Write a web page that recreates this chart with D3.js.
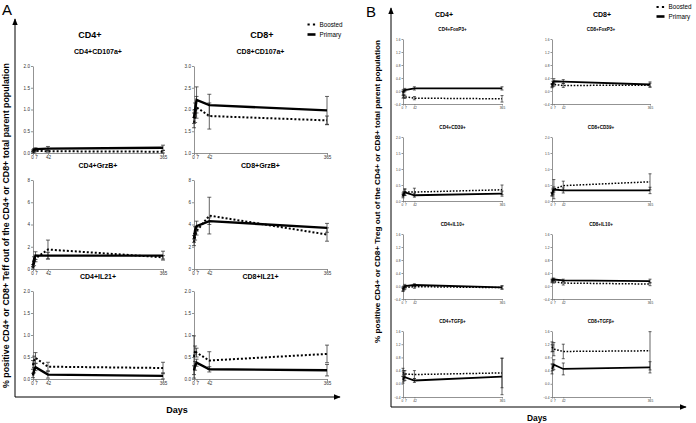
<!DOCTYPE html>
<html><head><meta charset="utf-8">
<script src="https://cdn.jsdelivr.net/npm/d3@7"></script>
<style>html,body{margin:0;padding:0;background:#fff;}svg{display:block;font-family:"Liberation Sans",Arial,sans-serif;}</style>
</head><body>
<svg id="c" width="696" height="423"></svg>
<script>
// ---- data ----
const days = [0, 3, 7, 42, 365];
const xTickDays = [0, 7, 42, 365];
const seriesNames = ["Boosted", "Primary"];

// Panel A (Teff)
const cd4Cd107aPrimary = [0.05, 0.08, 0.09, 0.10, 0.12];
const cd4Cd107aPrimaryErr = [0.02, 0.02, 0.03, 0.05, 0.06];
const cd4Cd107aBoosted = [0.02, 0.04, 0.05, 0.04, 0.03];
const cd4Cd107aBoostedErr = [0.02, 0.02, 0.02, 0.02, 0.03];

const cd8Cd107aPrimary = [1.80, 2.00, 2.22, 2.10, 1.98];
const cd8Cd107aPrimaryErr = [0.12, 0.15, 0.30, 0.25, 0.32];
const cd8Cd107aBoosted = [1.70, 1.85, 2.05, 1.85, 1.75];
const cd8Cd107aBoostedErr = [0.12, 0.15, 0.25, 0.30, 0.10];

const cd4GrzbPrimary = [0.3, 0.9, 1.2, 1.2, 1.2];
const cd4GrzbPrimaryErr = [0.1, 0.2, 0.35, 0.3, 0.4];
const cd4GrzbBoosted = [0.1, 0.5, 0.95, 1.75, 1.05];
const cd4GrzbBoostedErr = [0.1, 0.2, 0.3, 0.85, 0.15];

const cd8GrzbPrimary = [2.7, 3.5, 3.85, 4.3, 3.7];
const cd8GrzbPrimaryErr = [0.3, 0.3, 0.45, 0.3, 0.4];
const cd8GrzbBoosted = [2.4, 2.9, 3.4, 4.8, 3.1];
const cd8GrzbBoostedErr = [0.3, 0.3, 0.35, 1.65, 0.6];

const cd4Il21Primary = [0.08, 0.20, 0.27, 0.10, 0.07];
const cd4Il21PrimaryErr = [0.05, 0.06, 0.08, 0.08, 0.07];
const cd4Il21Boosted = [0.32, 0.42, 0.48, 0.28, 0.25];
const cd4Il21BoostedErr = [0.10, 0.10, 0.12, 0.10, 0.13];

const cd8Il21Primary = [0.20, 0.30, 0.37, 0.22, 0.20];
const cd8Il21PrimaryErr = [0.10, 0.10, 0.08, 0.06, 0.13];
const cd8Il21Boosted = [0.50, 0.65, 0.60, 0.42, 0.57];
const cd8Il21BoostedErr = [0.48, 0.10, 0.10, 0.20, 0.20];

// Panel B (Treg)
const cd4Foxp3Primary = [-0.05, 0.00, 0.03, 0.08, 0.08];
const cd4Foxp3PrimaryErr = [0.08, 0.05, 0.05, 0.05, 0.05];
const cd4Foxp3Boosted = [-0.12, -0.15, -0.18, -0.22, -0.24];
const cd4Foxp3BoostedErr = [0.10, 0.05, 0.05, 0.05, 0.10];

const cd8Foxp3Primary = [0.18, 0.25, 0.30, 0.29, 0.20];
const cd8Foxp3PrimaryErr = [0.05, 0.05, 0.08, 0.06, 0.08];
const cd8Foxp3Boosted = [0.15, 0.18, 0.20, 0.17, 0.18];
const cd8Foxp3BoostedErr = [0.05, 0.05, 0.05, 0.06, 0.06];

const cd4Cd39Primary = [0.15, 0.22, 0.27, 0.18, 0.23];
const cd4Cd39PrimaryErr = [0.05, 0.05, 0.10, 0.06, 0.08];
const cd4Cd39Boosted = [0.20, 0.25, 0.28, 0.28, 0.35];
const cd4Cd39BoostedErr = [0.05, 0.05, 0.10, 0.12, 0.15];

const cd8Cd39Primary = [0.22, 0.30, 0.36, 0.33, 0.33];
const cd8Cd39PrimaryErr = [0.05, 0.05, 0.08, 0.08, 0.10];
const cd8Cd39Boosted = [0.20, 0.30, 0.37, 0.48, 0.60];
const cd8Cd39BoostedErr = [0.05, 0.10, 0.30, 0.14, 0.25];

const cd4Il10Primary = [-0.10, -0.05, 0.00, 0.03, -0.04];
const cd4Il10PrimaryErr = [0.05, 0.05, 0.05, 0.04, 0.05];
const cd4Il10Boosted = [-0.12, -0.08, -0.05, -0.02, -0.05];
const cd4Il10BoostedErr = [0.05, 0.05, 0.05, 0.05, 0.05];

const cd8Il10Primary = [0.17, 0.20, 0.20, 0.17, 0.15];
const cd8Il10PrimaryErr = [0.04, 0.04, 0.04, 0.04, 0.06];
const cd8Il10Boosted = [0.14, 0.16, 0.13, 0.09, 0.06];
const cd8Il10BoostedErr = [0.04, 0.04, 0.04, 0.06, 0.05];

const cd4TgfbPrimary = [0.12, 0.18, 0.20, 0.10, 0.22];
const cd4TgfbPrimaryErr = [0.10, 0.10, 0.10, 0.06, 0.55];
const cd4TgfbBoosted = [0.35, 0.30, 0.30, 0.28, 0.33];
const cd4TgfbBoostedErr = [0.12, 0.10, 0.10, 0.12, 0.45];

const cd8TgfbPrimary = [0.45, 0.50, 0.58, 0.45, 0.50];
const cd8TgfbPrimaryErr = [0.15, 0.10, 0.15, 0.18, 0.17];
const cd8TgfbBoosted = [1.12, 1.08, 1.05, 0.98, 1.00];
const cd8TgfbBoostedErr = [0.15, 0.10, 0.20, 0.22, 0.58];

const ticks02 = [0, 0.5, 1.0, 1.5, 2.0];
const ticks13 = [1.0, 1.5, 2.0, 2.5, 3.0];
const ticks08 = [0, 2, 4, 6, 8];
const ticksTreg = [-0.4, 0.0, 0.4, 0.8, 1.2, 1.6];

// ---- layout ----
const svg = d3.select("#c");
const FONT = '"Liberation Sans",Arial,sans-serif';
const aCols = [[33, 163], [194, 327]];
const aRows = [[66, 153], [180, 269], [291, 379]];
const bCols = [[403, 502], [552, 650]];
const bRows = [[39, 104], [137, 201], [234, 299], [331, 397]];

const panels = [
  {g:"A", c:0, r:0, title:"CD4+CD107a+", dom:[0,2], ticks:ticks02, fmt:".1f", p:cd4Cd107aPrimary, pe:cd4Cd107aPrimaryErr, b:cd4Cd107aBoosted, be:cd4Cd107aBoostedErr},
  {g:"A", c:1, r:0, title:"CD8+CD107a+", dom:[1,3], ticks:ticks13, fmt:".1f", p:cd8Cd107aPrimary, pe:cd8Cd107aPrimaryErr, b:cd8Cd107aBoosted, be:cd8Cd107aBoostedErr},
  {g:"A", c:0, r:1, title:"CD4+GrzB+", dom:[0,8], ticks:ticks08, fmt:"d", p:cd4GrzbPrimary, pe:cd4GrzbPrimaryErr, b:cd4GrzbBoosted, be:cd4GrzbBoostedErr},
  {g:"A", c:1, r:1, title:"CD8+GrzB+", dom:[0,8], ticks:ticks08, fmt:"d", p:cd8GrzbPrimary, pe:cd8GrzbPrimaryErr, b:cd8GrzbBoosted, be:cd8GrzbBoostedErr},
  {g:"A", c:0, r:2, title:"CD4+IL21+", dom:[0,2], ticks:ticks02, fmt:".1f", p:cd4Il21Primary, pe:cd4Il21PrimaryErr, b:cd4Il21Boosted, be:cd4Il21BoostedErr},
  {g:"A", c:1, r:2, title:"CD8+IL21+", dom:[0,2], ticks:ticks02, fmt:".1f", p:cd8Il21Primary, pe:cd8Il21PrimaryErr, b:cd8Il21Boosted, be:cd8Il21BoostedErr},
  {g:"B", c:0, r:0, title:"CD4+FoxP3+", dom:[-0.4,1.6], ticks:ticksTreg, fmt:".1f", p:cd4Foxp3Primary, pe:cd4Foxp3PrimaryErr, b:cd4Foxp3Boosted, be:cd4Foxp3BoostedErr},
  {g:"B", c:1, r:0, title:"CD8+FoxP3+", dom:[-0.4,1.6], ticks:ticksTreg, fmt:".1f", p:cd8Foxp3Primary, pe:cd8Foxp3PrimaryErr, b:cd8Foxp3Boosted, be:cd8Foxp3BoostedErr},
  {g:"B", c:0, r:1, title:"CD4+CD39+", dom:[0,2], ticks:ticks02, fmt:".1f", p:cd4Cd39Primary, pe:cd4Cd39PrimaryErr, b:cd4Cd39Boosted, be:cd4Cd39BoostedErr},
  {g:"B", c:1, r:1, title:"CD8+CD39+", dom:[0,2], ticks:ticks02, fmt:".1f", p:cd8Cd39Primary, pe:cd8Cd39PrimaryErr, b:cd8Cd39Boosted, be:cd8Cd39BoostedErr},
  {g:"B", c:0, r:2, title:"CD4+IL10+", dom:[-0.4,1.6], ticks:ticksTreg, fmt:".1f", p:cd4Il10Primary, pe:cd4Il10PrimaryErr, b:cd4Il10Boosted, be:cd4Il10BoostedErr},
  {g:"B", c:1, r:2, title:"CD8+IL10+", dom:[-0.4,1.6], ticks:ticksTreg, fmt:".1f", p:cd8Il10Primary, pe:cd8Il10PrimaryErr, b:cd8Il10Boosted, be:cd8Il10BoostedErr},
  {g:"B", c:0, r:3, title:"CD4+TGFβ+", dom:[-0.4,1.6], ticks:ticksTreg, fmt:".1f", p:cd4TgfbPrimary, pe:cd4TgfbPrimaryErr, b:cd4TgfbBoosted, be:cd4TgfbBoostedErr},
  {g:"B", c:1, r:3, title:"CD8+TGFβ+", dom:[-0.4,1.6], ticks:ticksTreg, fmt:".1f", p:cd8TgfbPrimary, pe:cd8TgfbPrimaryErr, b:cd8TgfbBoosted, be:cd8TgfbBoostedErr}
];

function drawPanel(P) {
  const isA = P.g === "A";
  const cx = (isA ? aCols : bCols)[P.c];
  const ry = (isA ? aRows : bRows)[P.r];
  const x = d3.scaleLinear().domain([0, 365]).range(cx);
  const y = d3.scaleLinear().domain(P.dom).range([ry[1], ry[0]]);
  const tickFont = isA ? 4.6 : 3.2;
  const g = svg.append("g");

  // axes
  const ya = g.append("g").attr("transform", `translate(${cx[0]},0)`)
    .call(d3.axisLeft(y).tickValues(P.ticks).tickSize(isA ? 2 : 1.5).tickSizeOuter(0).tickPadding(1).tickFormat(d3.format(P.fmt)));
  const xa = g.append("g").attr("transform", `translate(0,${ry[1]})`)
    .call(d3.axisBottom(x).tickValues(xTickDays).tickSize(isA ? 2 : 1.5).tickSizeOuter(0).tickPadding(1).tickFormat(d3.format("d")));
  [ya, xa].forEach(a => {
    a.selectAll("path,line").attr("stroke", "#777").attr("stroke-width", 0.8);
    a.selectAll("text").attr("font-size", tickFont).attr("font-family", FONT).attr("fill", "#333");
  });
  xa.selectAll(".tick").filter(d => d === 0).select("text").attr("dx", -1);
  xa.selectAll(".tick").filter(d => d === 7).select("text").attr("dx", 0.6);

  // title
  g.append("text").attr("x", (cx[0] + cx[1]) / 2).attr("y", ry[0] - (isA ? 12 : 8))
    .attr("text-anchor", "middle").attr("font-size", isA ? 7 : 4.6).attr("font-weight", "bold")
    .attr("font-family", FONT).text(P.title);

  const series = [
    {v: P.b, e: P.be, dash: isA ? "2,2" : "1.6,1.6", w: isA ? 2 : 1.5},
    {v: P.p, e: P.pe, dash: null, w: isA ? 2.4 : 1.8}
  ];
  const cap = isA ? 2 : 1.5;
  series.forEach(s => {
    const pts = days.map((d, i) => ({d, v: s.v[i], e: s.e[i]}));
    // error bars
    const eb = g.append("g").attr("stroke", "#222").attr("stroke-width", 0.7);
    pts.forEach(p => {
      const X = x(p.d), y1 = y(p.v + p.e), y2 = y(p.v - p.e);
      eb.append("line").attr("x1", X).attr("x2", X).attr("y1", y1).attr("y2", y2);
      eb.append("line").attr("x1", X - cap).attr("x2", X + cap).attr("y1", y1).attr("y2", y1);
      eb.append("line").attr("x1", X - cap).attr("x2", X + cap).attr("y1", y2).attr("y2", y2);
    });
    g.append("path").datum(pts)
      .attr("d", d3.line().x(p => x(p.d)).y(p => y(p.v)))
      .attr("fill", "none").attr("stroke", "#000").attr("stroke-width", s.w)
      .attr("stroke-dasharray", s.dash);
  });
}
panels.forEach(drawPanel);

// ---- frame: letters, headers, arrows, axis titles, legends ----
function txt(x, y, s, size, weight, anchor, rot) {
  const t = svg.append("text").attr("x", x).attr("y", y).attr("font-size", size)
    .attr("font-weight", weight || "normal").attr("font-family", FONT)
    .attr("text-anchor", anchor || "start").text(s);
  if (rot) t.attr("transform", `rotate(${rot},${x},${y})`);
  return t;
}
txt(2, 15, "A", 15, "normal");
txt(366, 17, "B", 15, "normal");
txt(90, 38, "CD4+", 9, "bold", "middle");
txt(262, 38, "CD8+", 9, "bold", "middle");
txt(444, 17, "CD4+", 7, "bold", "middle");
txt(602, 17, "CD8+", 7, "bold", "middle");
txt(177, 413, "Days", 9, "bold", "middle");
txt(537, 421, "Days", 8.4, "bold", "middle");
txt(8.5, 225.5, "% positive CD4+ or CD8+ Teff out of the CD4+ or CD8+ total parent population", 8.3, "bold", "middle", -90)
  .attr("textLength", 325).attr("lengthAdjust", "spacingAndGlyphs");
txt(380, 191.5, "% positive CD4+ or CD8+ Treg out of the CD4+ or CD8+ total parent population", 7.6, "bold", "middle", -90)
  .attr("textLength", 303).attr("lengthAdjust", "spacingAndGlyphs");

// arrows
const defs = svg.append("defs");
defs.append("marker").attr("id", "ah").attr("viewBox", "0 0 10 10").attr("refX", 9).attr("refY", 5)
  .attr("markerWidth", 7).attr("markerHeight", 7).attr("orient", "auto")
  .append("path").attr("d", "M0,1 L10,5 L0,9 Z").attr("fill", "#000");
function arrow(x1, y1, x2, y2) {
  svg.append("line").attr("x1", x1).attr("y1", y1).attr("x2", x2).attr("y2", y2)
    .attr("stroke", "#000").attr("stroke-width", 1).attr("marker-end", "url(#ah)");
}
arrow(15, 397, 15, 19);
arrow(15, 397, 340, 397);
arrow(391, 407, 391, 8);
arrow(391, 407, 686, 407);

// legends
function legend(x, y, size, gap) {
  seriesNames.forEach((name, i) => {
    const yy = y + i * gap;
    const ln = svg.append("line").attr("x1", x).attr("x2", x + 8).attr("y1", yy).attr("y2", yy)
      .attr("stroke", "#000");
    if (name === "Boosted") ln.attr("stroke-width", 2.2).attr("stroke-dasharray", "2.2,3.2");
    else ln.attr("stroke-width", 2.6);
    txt(x + 12, yy + size * 0.35, name, size, "normal");
  });
}
legend(307.5, 24.5, 6.3, 10);
legend(656.5, 7, 6.3, 9.5);
</script>
</body></html>
